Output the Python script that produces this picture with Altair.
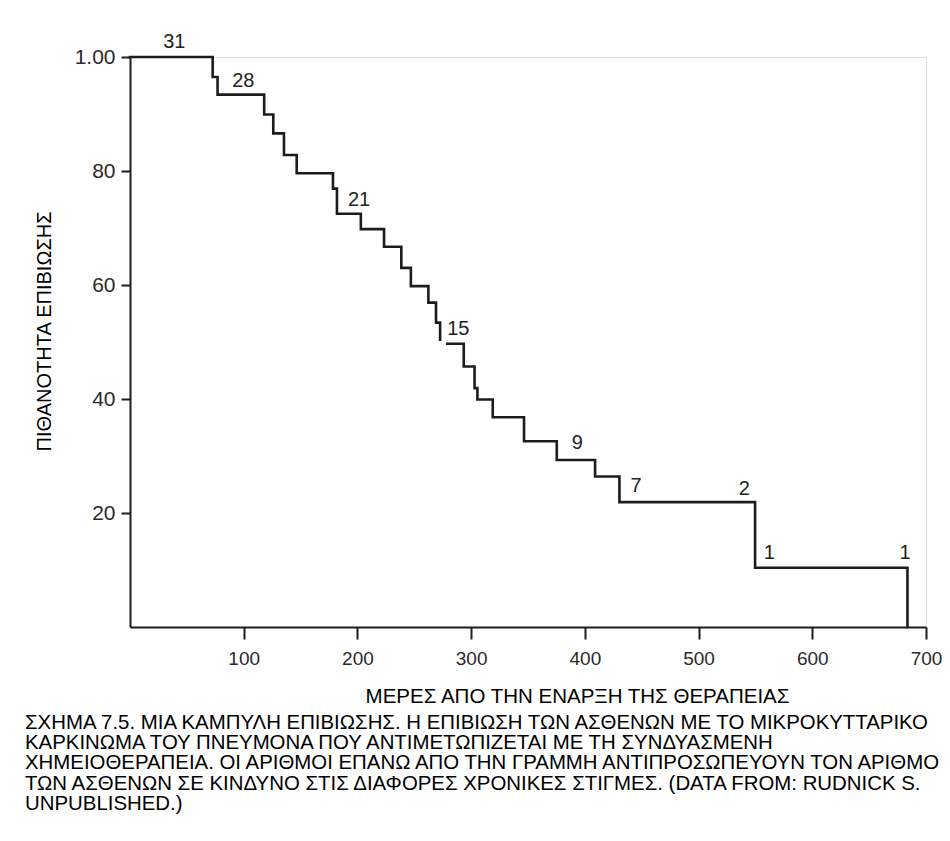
import altair as alt
import pandas as pd

# Kaplan-Meier curve (days, survival %)
times_a = [0, 72.7, 77, 118, 126, 135.4, 146.6, 178.5, 182, 203, 223.4, 238.6, 247, 262.4, 269.1, 272.7]
surv_a = [100, 96.5, 93.4, 89.9, 86.6, 82.8, 79.6, 76.9, 72.5, 69.8, 66.7, 63.0, 59.8, 56.9, 53.4, 50.4]
times_b = [279, 293.5, 303, 305.5, 319, 346.5, 375.3, 409, 430.4, 549.7, 683.7]
surv_b = [49.7, 45.7, 41.9, 39.9, 36.8, 32.6, 29.3, 26.4, 21.9, 10.4, 0]

# numbers at risk
risk_t = [39, 99.6, 201.4, 288.7, 393.4, 445, 540.3, 562.3, 681.6]
risk_s = [102.6, 95.8, 75.0, 52.3, 32.2, 24.7, 24.2, 13.0, 13.0]
risk_n = ["31", "28", "21", "15", "9", "7", "2", "1", "1"]

x_ticks = [100, 200, 300, 400, 500, 600, 700]
y_ticks = [20, 40, 60, 80, 100]

caption = [
    "ΣΧΗΜΑ 7.5. ΜΙΑ ΚΑΜΠΥΛΗ ΕΠΙΒΙΩΣΗΣ. Η ΕΠΙΒΙΩΣΗ ΤΩΝ ΑΣΘΕΝΩΝ ΜΕ ΤΟ ΜΙΚΡΟΚΥΤΤΑΡΙΚΟ",
    "ΚΑΡΚΙΝΩΜΑ ΤΟΥ ΠΝΕΥΜΟΝΑ ΠΟΥ ΑΝΤΙΜΕΤΩΠΙΖΕΤΑΙ ΜΕ ΤΗ ΣΥΝΔΥΑΣΜΕΝΗ",
    "ΧΗΜΕΙΟΘΕΡΑΠΕΙΑ. ΟΙ ΑΡΙΘΜΟΙ ΕΠΑΝΩ ΑΠΟ ΤΗΝ ΓΡΑΜΜΗ ΑΝΤΙΠΡΟΣΩΠΕΥΟΥΝ ΤΟΝ ΑΡΙΘΜΟ",
    "ΤΩΝ ΑΣΘΕΝΩΝ ΣΕ ΚΙΝΔΥΝΟ ΣΤΙΣ ΔΙΑΦΟΡΕΣ ΧΡΟΝΙΚΕΣ ΣΤΙΓΜΕΣ. (DATA FROM: RUDNICK S.",
    "UNPUBLISHED.)",
]

FONT = "Liberation Sans, Arial, Helvetica, sans-serif"
INK = "#1c1c1c"

curve = pd.DataFrame({
    "t": times_a + times_b,
    "s": surv_a + surv_b,
    "seg": ["a"] * len(times_a) + ["b"] * len(times_b),
})
risk = pd.DataFrame({"t": risk_t, "s": risk_s, "n": risk_n})

xscale = alt.Scale(domain=[0, 700], nice=False, zero=False)
yscale = alt.Scale(domain=[0, 100], nice=False)

x_axis = alt.Axis(
    values=x_ticks, grid=False, domainColor=INK, domainWidth=2,
    tickColor=INK, tickWidth=2, tickSize=12, labelPadding=10,
    labelFont=FONT, labelFontSize=19, labelColor="#2a2a2a", labelFlush=False,
    title="ΜΕΡΕΣ ΑΠΟ ΤΗΝ ΕΝΑΡΞΗ ΤΗΣ ΘΕΡΑΠΕΙΑΣ", titleFont=FONT, titleFontSize=20.5,
    titleFontWeight="normal", titleColor="#000000", titleX=447, titleY=75,
    titleAlign="center", titleBaseline="alphabetic",
)
y_axis = alt.Axis(
    values=y_ticks, grid=False, domainColor=INK, domainWidth=2,
    tickColor=INK, tickWidth=2, tickSize=9, labelPadding=6,
    labelFont=FONT, labelFontSize=21, labelColor="#2a2a2a", labelFlush=False,
    labelExpr="datum.value == 100 ? '1.00' : datum.label",
    title="ΠΙΘΑΝΟΤΗΤΑ ΕΠΙΒΙΩΣΗΣ", titleFont=FONT, titleFontSize=20,
    titleFontWeight="normal", titleColor="#000000", titleAngle=270,
    titleX=-80, titleY=274, titleAlign="center", titleBaseline="alphabetic",
)

line = alt.Chart(curve).mark_line(
    interpolate="step-after", color=INK, strokeWidth=2.6, strokeCap="square"
).encode(
    x=alt.X("t:Q", scale=xscale, axis=x_axis),
    y=alt.Y("s:Q", scale=yscale, axis=y_axis),
    detail="seg:N",
)

labels = alt.Chart(risk).mark_text(
    font=FONT, fontSize=20, color="#222222", align="center", baseline="middle"
).encode(
    x=alt.X("t:Q", scale=xscale),
    y=alt.Y("s:Q", scale=yscale),
    text="n:N",
)

chart = alt.layer(line, labels).properties(
    width=796,
    height=570,
    autosize=alt.AutoSizeParams(type="none"),
    padding={"left": 122, "top": 49, "right": 16, "bottom": 200},
    title=alt.TitleParams(
        text=caption, orient="bottom", anchor="start", frame="group",
        align="left", baseline="top", dx=-105, offset=6,
        font=FONT, fontSize=20.4, fontWeight="normal", color="#000000", lineHeight=20.4,
    ),
).configure_view(stroke=None).configure(background="white")

chart.save("out.html", embed_options={"renderer": "svg", "actions": False})
